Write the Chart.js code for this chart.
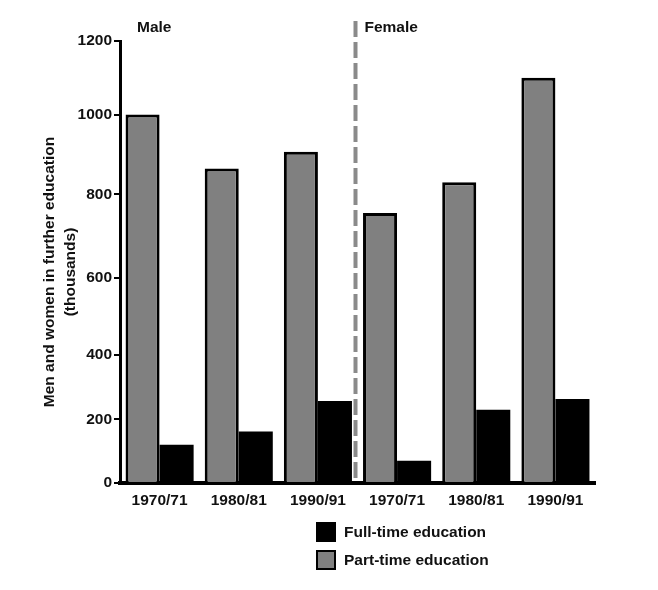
<!DOCTYPE html>
<html>
<head>
<meta charset="utf-8">
<script src="https://cdn.jsdelivr.net/npm/chart.js@4/dist/chart.umd.min.js"></script>
<style>
  html, body { margin: 0; padding: 0; background: #fff; }
  #wrap { position: relative; width: 658px; height: 590px; }
  #legend { position: absolute; left: 316px; top: 522px; font: bold 15.5px "Liberation Sans", Arial, sans-serif; color: #111; }
  .item { display: flex; align-items: center; height: 20px; margin-bottom: 8px; }
  .box { width: 16px; height: 16px; border: 2px solid #000; margin-right: 8px; }
</style>
</head>
<body>
<div id="wrap">
  <canvas id="c" width="658" height="590"></canvas>
  <div id="legend"></div>
</div>
<script>
// ---- data ----
const categories = ['1970/71', '1980/81', '1990/91', '1970/71', '1980/81', '1990/91'];
const groupLabels = ['Male', 'Female'];
const partTime = [1000, 865, 907, 755, 830, 1100];
const fullTime = [120, 162, 257, 70, 230, 263];
const yTicks = [0, 200, 400, 600, 800, 1000, 1200];
const seriesNames = ['Part-time education', 'Full-time education'];
const yTitle = ['Men and women in further education', '(thousands)'];

// axis drawn in the reference with uneven tick spacing (fraction of axis height per tick)
const tickFractions = [0, 0.144, 0.2905, 0.4638, 0.6532, 0.8335, 1];

class PiecewiseScale extends Chart.LinearScale {
  static id = 'piecewise';
  static defaults = {};
  _toFrac(v) {
    const t = yTicks, f = tickFractions;
    if (v <= t[0]) return f[0];
    for (let i = 1; i < t.length; i++) {
      if (v <= t[i]) return f[i - 1] + (v - t[i - 1]) / (t[i] - t[i - 1]) * (f[i] - f[i - 1]);
    }
    return f[f.length - 1];
  }
  getPixelForValue(value) {
    return this.getPixelForDecimal(this._toFrac(value));
  }
  getValueForPixel(pixel) {
    const d = this.getDecimalForPixel(pixel);
    const t = yTicks, f = tickFractions;
    for (let i = 1; i < f.length; i++) {
      if (d <= f[i]) return t[i - 1] + (d - f[i - 1]) / (f[i] - f[i - 1]) * (t[i] - t[i - 1]);
    }
    return t[t.length - 1];
  }
}
Chart.register(PiecewiseScale);

const FONT = '"Liberation Sans", Arial, sans-serif';

const overlay = {
  id: 'overlay',
  afterDatasetsDraw(chart) {
    const ctx = chart.ctx, x = chart.scales.x, area = chart.chartArea;
    const sx = (x.getPixelForValue(2) + x.getPixelForValue(3)) / 2 - 2;
    ctx.save();
    ctx.strokeStyle = '#8a8a8a';
    ctx.lineWidth = 4;
    ctx.setLineDash([16, 5]);
    ctx.beginPath();
    ctx.moveTo(sx, 21);
    ctx.lineTo(sx, area.bottom - 2);
    ctx.stroke();
    ctx.setLineDash([]);
    ctx.fillStyle = '#111';
    ctx.font = 'bold 15.5px ' + FONT;
    ctx.textBaseline = 'middle';
    ctx.textAlign = 'left';
    ctx.fillText(groupLabels[0], area.left + 17, 28);
    ctx.fillText(groupLabels[1], sx + 9, 28);
    // y axis title (two lines, rotated)
    ctx.translate(0, 272);
    ctx.rotate(-Math.PI / 2);
    ctx.textAlign = 'center';
    ctx.fillText(yTitle[0], 0, 50);
    ctx.fillText(yTitle[1], 0, 71);
    ctx.restore();
  }
};

const chart = new Chart(document.getElementById('c'), {
  type: 'bar',
  data: {
    labels: categories,
    datasets: [
      { label: seriesNames[0], data: partTime, backgroundColor: '#808080', borderColor: '#000', borderWidth: 3, borderSkipped: 'bottom' },
      { label: seriesNames[1], data: fullTime, backgroundColor: '#000', borderColor: '#000', borderWidth: 0 }
    ]
  },
  options: {
    responsive: false,
    animation: false,
    devicePixelRatio: 1,
    layout: { padding: { left: 0, right: 63, top: 41, bottom: 77 } },
    datasets: { bar: { categoryPercentage: 0.86, barPercentage: 1 } },
    plugins: { legend: { display: false }, tooltip: { enabled: false } },
    scales: {
      x: {
        grid: { display: false, drawTicks: false },
        border: { display: true, color: '#000', width: 4 },
        ticks: { color: '#111', font: { family: FONT, size: 15.5, weight: 'bold' }, padding: 8, maxRotation: 0 },
        afterFit(s) { s.height = 30; }
      },
      y: {
        type: 'piecewise',
        min: 0, max: 1200,
        afterBuildTicks(s) { s.ticks = yTicks.map(v => ({ value: v })); },
        grid: { display: true, drawOnChartArea: false, drawTicks: true, tickLength: 6, color: '#000', lineWidth: 2 },
        border: { display: true, color: '#000', width: 3 },
        ticks: { color: '#111', font: { family: FONT, size: 15.5, weight: 'bold' }, padding: 2, callback: v => String(v) },
        afterFit(s) { s.width = 120; }
      }
    }
  },
  plugins: [overlay]
});

// legend (Full-time first, as in the reference)
const leg = document.getElementById('legend');
[1, 0].forEach(i => {
  const ds = chart.data.datasets[i];
  const row = document.createElement('div');
  row.className = 'item';
  const b = document.createElement('span');
  b.className = 'box';
  b.style.background = ds.backgroundColor;
  const t = document.createElement('span');
  t.textContent = ds.label;
  row.appendChild(b); row.appendChild(t);
  leg.appendChild(row);
});
</script>
</body>
</html>
